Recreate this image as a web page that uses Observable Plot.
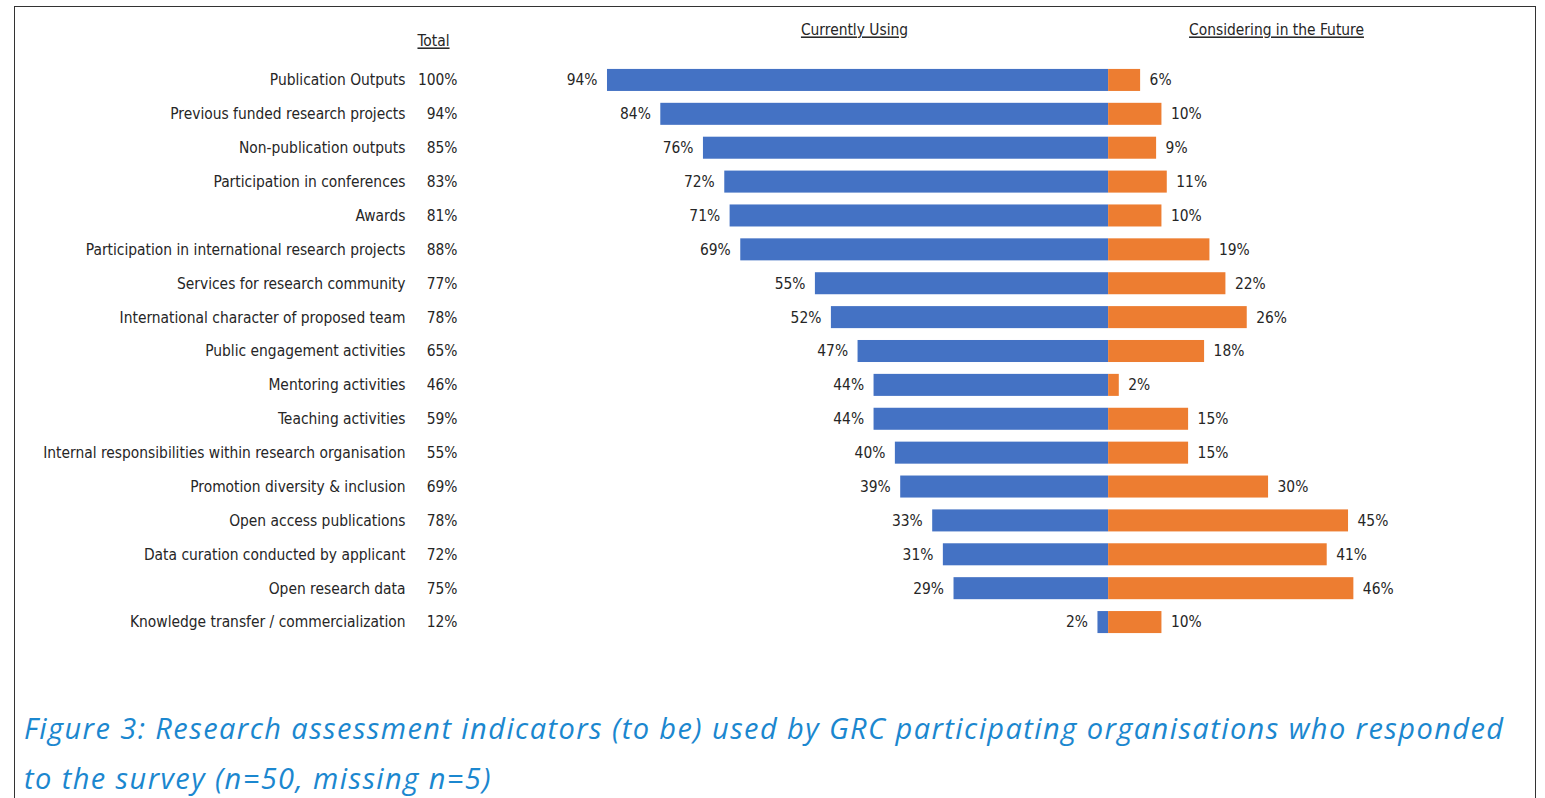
<!DOCTYPE html>
<html>
<head>
<meta charset="utf-8">
<script src="https://cdn.jsdelivr.net/npm/d3@7"></script>
<script src="https://cdn.jsdelivr.net/npm/@observablehq/plot@0.6"></script>
<style>
  html, body { margin: 0; padding: 0; background: #fff; width: 1545px; height: 798px; overflow: hidden; }
  #box { position: absolute; left: 14px; top: 6px; width: 1522px; height: 900px; border: 1.5px solid #333; box-sizing: border-box; }
  #chart { position: absolute; left: 0; top: 0; }
  #caption { position: absolute; left: 24px; top: 703px; font-family: "Open Sans", Lato, sans-serif; font-style: italic; font-weight: 400; font-size: 29px; line-height: 50px; color: #1b87cf; white-space: nowrap; }
  .hdr text { text-decoration: underline; }
</style>
</head>
<body>
<div id="box"></div>
<div id="chart"></div>
<div id="caption"><span id="cap1">Figure 3: Research assessment indicators (to be) used by GRC participating organisations who responded</span><br><span id="cap2">to the survey (n=50, missing n=5)</span></div>
<script>
const categories = [
  "Publication Outputs",
  "Previous funded research projects",
  "Non-publication outputs",
  "Participation in conferences",
  "Awards",
  "Participation in international research projects",
  "Services for research community",
  "International character of proposed team",
  "Public engagement activities",
  "Mentoring activities",
  "Teaching activities",
  "Internal responsibilities within research organisation",
  "Promotion diversity & inclusion",
  "Open access publications",
  "Data curation conducted by applicant",
  "Open research data",
  "Knowledge transfer / commercialization"
];
const total   = [100, 94, 85, 83, 81, 88, 77, 78, 65, 46, 59, 55, 69, 78, 72, 75, 12];
const current = [94, 84, 76, 72, 71, 69, 55, 52, 47, 44, 44, 40, 39, 33, 31, 29, 2];
const future  = [6, 10, 9, 11, 10, 19, 22, 26, 18, 2, 15, 15, 30, 45, 41, 46, 10];
const headers = ["Total", "Currently Using", "Considering in the Future"];

const rows = categories.map((c, i) => ({cat: c, total: total[i], current: current[i], future: future[i]}));
const textColor = "#262626";
const font = "'DejaVu Sans Condensed', 'Liberation Sans Narrow', sans-serif";

const chart = Plot.plot({
  width: 1545,
  height: 680,
  marginLeft: 575,
  marginRight: 117,
  marginTop: 63,
  marginBottom: 41,
  style: {fontFamily: font, fontSize: "15.4px", color: textColor, background: "transparent"},
  x: {domain: [-100, 60], axis: null},
  y: {domain: categories, axis: null, paddingInner: 0.35, paddingOuter: 0.175, round: false},
  marks: [
    Plot.barX(rows, {y: "cat", x1: 0, x2: d => -d.current, fill: "#4472C4"}),
    Plot.barX(rows, {y: "cat", x1: 0, x2: "future", fill: "#ED7D31"}),
    Plot.text(rows, {y: "cat", x: d => -d.current, text: d => d.current + "%", textAnchor: "end", dx: -10, fill: textColor}),
    Plot.text(rows, {y: "cat", x: "future", text: d => d.future + "%", textAnchor: "start", dx: 9, fill: textColor}),
    Plot.text(rows, {y: "cat", frameAnchor: "left", text: "cat", textAnchor: "end", dx: -170, fill: textColor}),
    Plot.text(rows, {y: "cat", frameAnchor: "left", text: d => d.total + "%", textAnchor: "end", dx: -118, fill: textColor}),
    Plot.text([headers[0]], {frameAnchor: "top-left", text: d => d, dx: -142, dy: -28, textAnchor: "middle", fill: textColor, className: "hdr"}),
    Plot.text([headers[1]], {frameAnchor: "top-left", text: d => d, dx: 279, dy: -39, textAnchor: "middle", fill: textColor, className: "hdr"}),
    Plot.text([headers[2]], {frameAnchor: "top-left", text: d => d, dx: 701, dy: -39, textAnchor: "middle", fill: textColor, className: "hdr"})
  ]
});
document.getElementById("chart").appendChild(chart);

// fit caption line 1 to the reference's width via letter-spacing
const cap = document.getElementById("caption");
const cap1 = document.getElementById("cap1");
const targetW = 1481;
const w0 = cap1.getBoundingClientRect().width;
const ls = (targetW - w0) / cap1.textContent.length;
cap.style.letterSpacing = ls.toFixed(2) + "px";
</script>
</body>
</html>
